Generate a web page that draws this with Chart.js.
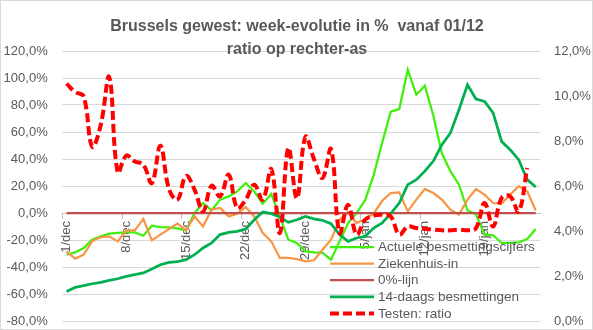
<!DOCTYPE html>
<html>
<head>
<meta charset="utf-8">
<script src="https://cdn.jsdelivr.net/npm/chart.js@4.4.1/dist/chart.umd.min.js"></script>
<style>
  html, body { margin: 0; padding: 0; background: #fff; }
  #wrap { position: relative; width: 593px; height: 330px; }
</style>
</head>
<body>
<div id="wrap"><canvas id="chart" width="593" height="330"></canvas></div>
<script>
const titleLines = ["Brussels gewest: week-evolutie in %  vanaf 01/12", "ratio op rechter-as"];

// one category per day, 1/dec .. 25/jan
const dates = [];
for (let d = 1; d <= 31; d++) dates.push(d + "/dec");
for (let d = 1; d <= 25; d++) dates.push(d + "/jan");

const tickLabels = ["1/dec", "8/dec", "15/dec", "22/dec", "29/dec", "5/jan", "12/jan", "19/jan"];

// week-evolutie in % (left axis)
const actueel = [-30.9, -29.2, -25.9, -19.8, -17.3, -15.3, -14.8, -14.4, -14.4, -16.8,
  -9.4, -10.4, -10.6, -11.4, -12.9, 0, 7.4, 2, 9.9, 12.3,
  16, 22.2, 16, 6.9, 14.1, -2.5, -19.8, -22.2, -28.4, -29.2,
  -29.6, -34.6, -21, -7.4, 0, 9.5, 28, 52, 75, 77,
  106.1, 87.6, 94.3, 72, 44, 31, 21, 2, -1, -16,
  -16.5, -22.2, -22.2, -21.7, -19.3, -11.9];

const ziekenhuis = [-28.4, -33.8, -30.9, -21, -17.8, -17.3, -21, -12.9, -12.9, -4.4,
  -20.3, -16, -11.9, -7.9, -12.9, -2.5, -9.9, 2.5, 3.7, -2.5,
  -0.5, 4.4, -2.5, -14.8, -21, -33.3, -33.3, -34.1, -35.8, -35,
  -27.2, -19.8, -5, 0.5, -7.4, -4.4, -0.5, 9, 14.8, 15.3,
  1.2, 9.9, 17.8, 14.8, 9.9, 2.5, -1.2, 9.9, 17.8, 13.6,
  7.4, 6.9, 13.6, 19.8, 16, 1.9];

const besm14 = [-58.1, -55.1, -53.8, -52.4, -51.4, -49.9, -48.7, -46.9, -45.7, -44.4,
  -41.5, -38.3, -36.6, -36.1, -34.6, -30.9, -25.9, -22.2, -16, -14.4,
  -13.6, -11.9, -5, 0.7, -0.5, -3, -6.9, -5, -2.5, -4.4,
  -5.4, -7.9, -16, -21, -18.5, -17.3, -11.1, -7.4, -0.5, 7.4,
  21, 24.7, 31, 38.5, 50.6, 59.3, 76.5, 95, 84.4, 82.7,
  74.1, 53, 46.9, 39.5, 24.7, 19.3];

// positiviteitsratio in % (right axis), no value yet for the last day
const testRatio = [10.55, 10.18, 9.98, 7.75, 8.7, 10.84, 6.6, 7.35, 7.09, 6.95,
  6.13, 7.79, 5.88, 5.39, 6.45, 5.84, 4.87, 6.01, 5.54, 6.5,
  5.02, 5.39, 6.06, 5.39, 6.75, 3.91, 7.69, 5.45, 8.18, 7.2,
  6.36, 7.64, 3.91, 5.17, 3.84, 4.5, 4.68, 4.72, 4.65, 3.84,
  4.2, 4.13, 4.1, 4.06, 4.03, 4.03, 4.06, 4.03, 4.13, 5.24,
  4.2, 5.47, 5.54, 4.87, 6.8, null];

const zeroLine = dates.map(() => 0);

const FONT = "'Liberation Sans', Arial, sans-serif";
const GREY = '#595959';

const pct = v => v.toFixed(1).replace('.', ',') + '%';

const frame = {
    id: 'frame',
    beforeDraw(chart) {
        const c = chart.ctx;
        c.save();
        c.fillStyle = '#fff';
        c.fillRect(0, 0, chart.width, chart.height);
        c.strokeStyle = '#d9d9d9';
        c.lineWidth = 1;
        c.strokeRect(0.5, 0.5, chart.width - 1, chart.height - 1);
        c.restore();
    }
};

const titleBox = {
    id: 'titleBox',
    afterDraw(chart) {
        const c = chart.ctx;
        c.save();
        c.fillStyle = GREY;
        c.font = 'bold 16px ' + FONT;
        c.textAlign = 'center';
        c.textBaseline = 'alphabetic';
        c.fillText(titleLines[0], 297, 31);
        c.fillText(titleLines[1], 297, 53.5);
        c.restore();
    }
};

// legend sits inside the plot, bottom right
const innerLegend = {
    id: 'innerLegend',
    afterDraw(chart) {
        const c = chart.ctx;
        const x0 = 330, x1 = 374, tx = 378, y0 = 247, step = 16.6;
        c.save();
        c.font = '13.5px ' + FONT;
        c.textBaseline = 'middle';
        c.textAlign = 'left';
        chart.data.datasets.forEach((ds, i) => {
            const y = y0 + i * step;
            c.beginPath();
            c.strokeStyle = ds.borderColor;
            c.lineWidth = ds.borderWidth;
            c.setLineDash(ds.borderDash || []);
            c.moveTo(x0, y);
            c.lineTo(x1, y);
            c.stroke();
            c.setLineDash([]);
            c.fillStyle = GREY;
            c.fillText(ds.label, tx, y + 0.5);
        });
        c.restore();
    }
};

new Chart(document.getElementById('chart'), {
    type: 'line',
    data: {
        labels: dates,
        datasets: [
            { label: 'Actuele besmettingscijfers', data: actueel, borderColor: '#3ef00a', borderWidth: 2.25, order: 5 },
            { label: 'Ziekenhuis-in', data: ziekenhuis, borderColor: '#f79646', borderWidth: 2.25, order: 4 },
            { label: '0%-lijn', data: zeroLine, borderColor: '#c0504d', borderWidth: 2.25, order: 3 },
            { label: '14-daags besmettingen', data: besm14, borderColor: '#00b050', borderWidth: 2.75, order: 2 },
            { label: 'Testen: ratio', data: testRatio, borderColor: '#ff0000', borderWidth: 4,
              borderDash: [9, 4], tension: 0.4, yAxisID: 'y2', order: 1 }
        ]
    },
    plugins: [frame, titleBox, innerLegend],
    options: {
        responsive: false,
        animation: false,
        layout: { padding: { top: 51, bottom: 9, left: 0, right: 0 } },
        elements: {
            point: { radius: 0 },
            line: { tension: 0, fill: false, borderCapStyle: 'butt' }
        },
        plugins: {
            legend: { display: false },
            title: { display: false },
            tooltip: { enabled: false }
        },
        scales: {
            x: {
                position: { y: 0 },
                offset: true,
                afterFit(s) { s.height = 0; },
                grid: {
                    offset: true,
                    drawOnChartArea: false,
                    drawTicks: true,
                    tickLength: 5,
                    color: ctx => ctx.index % 7 === 0 ? '#bfbfbf' : 'rgba(0,0,0,0)'
                },
                border: { display: true, color: '#bfbfbf', width: 1 },
                ticks: {
                    autoSkip: false,
                    minRotation: 90,
                    maxRotation: 90,
                    padding: 3,
                    color: GREY,
                    font: { family: FONT, size: 13 },
                    callback(v, i) { return tickLabels.includes(dates[i]) ? dates[i] : ''; }
                }
            },
            y: {
                position: 'left',
                min: -80,
                max: 120,
                afterFit(s) { s.width = 62.3; },
                // invisible tick marks keep the labels clear of the plot
                grid: { color: '#d9d9d9', lineWidth: 1, drawTicks: true, tickLength: 14.6, tickColor: 'rgba(0,0,0,0)' },
                border: { display: false },
                ticks: {
                    stepSize: 20,
                    padding: 0,
                    color: GREY,
                    font: { family: FONT, size: 13 },
                    callback: pct
                }
            },
            y2: {
                position: 'right',
                min: 0,
                max: 12,
                afterFit(s) { s.width = 53; },
                grid: { drawOnChartArea: false, drawTicks: true, tickLength: 14, tickColor: 'rgba(0,0,0,0)' },
                border: { display: false },
                ticks: {
                    stepSize: 2,
                    padding: 0,
                    color: GREY,
                    font: { family: FONT, size: 13 },
                    callback: pct
                }
            }
        }
    }
});
</script>
</body>
</html>
